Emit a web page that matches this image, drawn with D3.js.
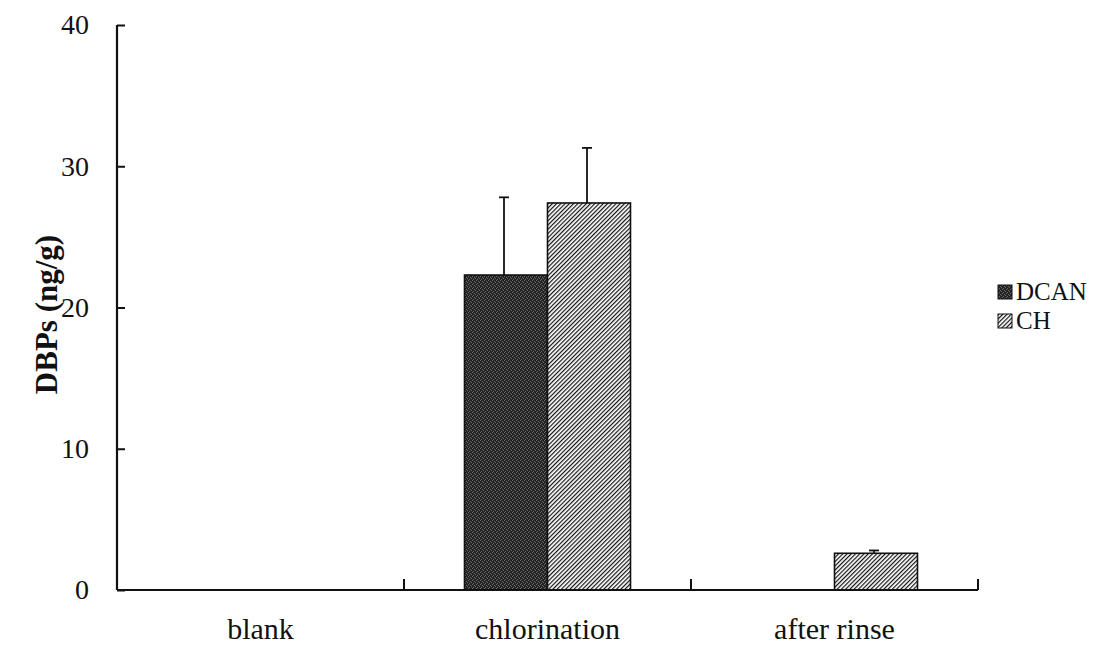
<!DOCTYPE html>
<html>
<head>
<meta charset="utf-8">
<script src="https://cdn.jsdelivr.net/npm/d3@7"></script>
<style>
  html, body { margin: 0; padding: 0; background: #fff; }
  svg { display: block; }
</style>
</head>
<body>
<svg id="chart" width="1106" height="649"></svg>
<script>
// DBP levels measured on the sample (ng/g)
const categories = ["blank", "chlorination", "after rinse"];
const seriesNames = ["DCAN", "CH"];
const dcanValues = [0, 22.3, 0];
const dcanErrors = [0, 5.5, 0];
const chValues = [0, 27.4, 2.6];
const chErrors = [0, 3.9, 0.2];
const yTicks = [0, 10, 20, 30, 40];

const serif = "'Liberation Serif', 'DejaVu Serif', serif";
const svg = d3.select("#chart").style("font-family", serif);
const plot = { left: 117, right: 978, top: 25, bottom: 590 };

const x = d3.scaleBand().domain(categories).range([plot.left, plot.right]).padding(0);
const sub = d3.scaleBand().domain(seriesNames).range([0, 166]);
const y = d3.scaleLinear().domain([0, 40]).range([plot.bottom, plot.top]);

// Fill patterns: dark stipple for DCAN, dense diagonal hatching for CH
const defs = svg.append("defs");
const stip = defs.append("pattern").attr("id", "stipple")
  .attr("patternUnits", "userSpaceOnUse").attr("width", 4).attr("height", 4);
stip.append("rect").attr("width", 4).attr("height", 4).attr("fill", "#242424");
[[0,0],[2,1],[1,3],[3,2]].forEach(([a,b]) =>
  stip.append("rect").attr("x", a).attr("y", b).attr("width", 1).attr("height", 1).attr("fill", "#6a6a6a"));

const hatch = defs.append("pattern").attr("id", "hatch")
  .attr("patternUnits", "userSpaceOnUse").attr("width", 3).attr("height", 3)
  .attr("patternTransform", "rotate(45)");
hatch.append("rect").attr("width", 3).attr("height", 3).attr("fill", "#fff");
hatch.append("rect").attr("x", 0).attr("y", 0).attr("width", 1.2).attr("height", 3)
  .attr("fill", "#111");

const fills = { DCAN: "url(#stipple)", CH: "url(#hatch)" };
const series = [
  { name: "DCAN", values: dcanValues, errors: dcanErrors },
  { name: "CH", values: chValues, errors: chErrors }
];

const offset = (x.bandwidth() - sub.range()[1]) / 2;

series.forEach(s => {
  categories.forEach((c, i) => {
    const v = s.values[i];
    if (v <= 0) return;
    const bx = x(c) + offset + sub(s.name);
    svg.append("rect")
      .attr("x", bx).attr("y", y(v))
      .attr("width", sub.bandwidth()).attr("height", y(0) - y(v))
      .attr("fill", fills[s.name]).attr("stroke", "#111").attr("stroke-width", 1.6);
    const e = s.errors[i];
    if (e > 0) {
      const cx = bx + sub.bandwidth() / 2 - 2;
      svg.append("line").attr("x1", cx).attr("x2", cx)
        .attr("y1", y(v)).attr("y2", y(v + e))
        .attr("stroke", "#111").attr("stroke-width", 1.8);
      svg.append("line").attr("x1", cx - 5).attr("x2", cx + 5)
        .attr("y1", y(v + e)).attr("y2", y(v + e))
        .attr("stroke", "#111").attr("stroke-width", 1.8);
    }
  });
});

// Y axis with inward ticks
const yAxis = d3.axisLeft(y).tickValues(yTicks).tickSize(-8).tickPadding(28).tickFormat(d3.format("d"));
const gy = svg.append("g").attr("transform", `translate(${plot.left},0)`).call(yAxis);
gy.attr("font-family", null).attr("font-size", null);
gy.select(".domain").attr("stroke", "#111").attr("stroke-width", 2.2)
  .attr("d", `M0,${plot.top}V${plot.bottom}`);
gy.selectAll(".tick line").attr("stroke", "#111").attr("stroke-width", 2);
gy.selectAll(".tick text").style("font-size", "28px").style("font-family", serif).attr("fill", "#111");

// X axis: ticks at category boundaries, pointing up
const xAxisLine = svg.append("g");
xAxisLine.append("line").attr("x1", plot.left).attr("x2", plot.right)
  .attr("y1", plot.bottom).attr("y2", plot.bottom).attr("stroke", "#111").attr("stroke-width", 2.2);
categories.forEach(c => {
  const bx = x(c) + x.bandwidth();
  xAxisLine.append("line").attr("x1", bx).attr("x2", bx)
    .attr("y1", plot.bottom).attr("y2", plot.bottom - 11).attr("stroke", "#111").attr("stroke-width", 2);
  xAxisLine.append("text").attr("x", x(c) + x.bandwidth() / 2).attr("y", 639)
    .attr("text-anchor", "middle").style("font-size", "30px").style("font-family", serif)
    .attr("fill", "#111").text(c);
});

// Y axis title
svg.append("text")
  .attr("transform", `translate(57,${(plot.top + plot.bottom) / 2 + 7}) rotate(-90)`)
  .attr("text-anchor", "middle").style("font-size", "31px").style("font-weight", "bold")
  .style("font-family", serif).attr("fill", "#111")
  .text("DBPs (ng/g)");

// Legend
const legend = svg.append("g").attr("transform", "translate(998,285)");
seriesNames.forEach((n, i) => {
  const g = legend.append("g").attr("transform", `translate(0,${i * 29})`);
  g.append("rect").attr("width", 14).attr("height", 14)
    .attr("fill", fills[n]).attr("stroke", "#111").attr("stroke-width", 1);
  g.append("text").attr("x", 18).attr("y", 15).style("font-size", "25px")
    .style("font-family", serif).attr("fill", "#111").text(n);
});
</script>
</body>
</html>
